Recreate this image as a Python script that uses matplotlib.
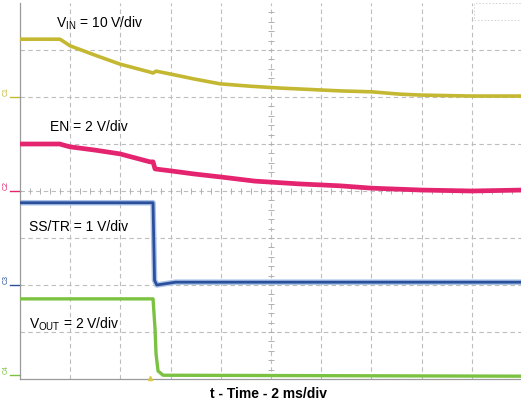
import matplotlib.pyplot as plt
import matplotlib.transforms as mtransforms
import numpy as np

plt.rcParams['font.family'] = ['Liberation Sans', 'DejaVu Sans']
plt.rcParams['mathtext.fontset'] = 'custom'
plt.rcParams['mathtext.rm'] = 'Liberation Sans'
plt.rcParams['mathtext.it'] = 'Liberation Sans'

# scope traces, time in ms, values in volts
vin_t = [0, 1.59, 1.71, 1.99, 2.99, 3.98, 5.18, 5.30, 5.42, 5.98, 6.97, 7.97, 9.16,
         10.36, 11.16, 12.75, 14.02, 15.14, 16.02, 18.01, 20.0]
vin_v = [12.3, 12.3, 11.9, 10.9, 8.9, 7.0, 5.3, 5.1, 5.5, 4.9, 3.8, 2.8, 2.3,
         1.9, 1.7, 1.3, 1.1, 0.6, 0.4, 0.2, 0.2]

en_t = [0, 1.59, 1.71, 1.99, 2.99, 3.98, 5.18, 5.30, 5.38, 5.98, 6.97, 7.97, 9.36,
        11.16, 12.75, 14.02, 16.02, 18.01, 20.0]
en_v = [2.0, 2.0, 1.96, 1.88, 1.74, 1.58, 1.24, 1.24, 0.94, 0.86, 0.72, 0.60, 0.42,
        0.30, 0.22, 0.12, 0.04, 0.0, 0.04]

ss_t = [0, 5.30, 5.36, 5.45, 5.70, 6.2, 20.0]
ss_v = [1.75, 1.75, 0.10, 0.00, 0.02, 0.06, 0.06]

vout_t = [0, 5.30, 5.38, 5.42, 5.50, 5.70, 20.0]
vout_v = [3.25, 3.25, 1.97, 0.90, 0.18, 0.0, -0.04]

# channel offsets (div) and scales (V/div)
channels = [
    ('C1', vin_t, vin_v, 6.0, 10, '#c4b832', 2.6),
    ('C2', en_t, en_v, 4.0, 2, '#e5246f', 3.4),
    ('C3', ss_t, ss_v, 2.0, 1, '#2c4f9c', 2.0),
    ('C4', vout_t, vout_v, 0.08, 2, '#7cc242', 2.4),
]

fig = plt.figure(figsize=(5.21, 4.10), dpi=100)
ax = fig.add_axes([20 / 521, 30 / 410, 502 / 521, 376 / 410])
ax.set_xlim(0, 20)
ax.set_ylim(0, 8)

# graticule
for gx in range(2, 20, 2):
    ax.axvline(gx, color='#bdbdbd', lw=0.8, ls=(0, (4, 3)), zorder=1)
for gy in range(1, 8):
    ax.axhline(gy, color='#bdbdbd', lw=0.8, ls=(0, (4, 3)), zorder=1)
ax.vlines(np.arange(0.4, 20, 0.4), 4 - 0.07, 4 + 0.07, color='#b0b0b0', lw=0.7, zorder=1)
ax.hlines(np.arange(0.2, 8, 0.2), 10 - 0.12, 10 + 0.12, color='#b0b0b0', lw=0.7, zorder=1)

ax.set_xticks([])
ax.set_yticks([])
for s in ['top', 'right']:
    ax.spines[s].set_visible(False)
for s in ['left', 'bottom']:
    ax.spines[s].set_color('#9a9a9a')
    ax.spines[s].set_linewidth(0.9)

trans = mtransforms.blended_transform_factory(ax.transAxes, ax.transData)
for name, t, v, off, scale, col, lw in channels:
    y = off + np.array(v) / scale
    if name == 'C3':
        ax.plot(t, y, color='#a9c4e8', lw=4.0, zorder=2, solid_capstyle='butt')
    ax.plot(t, y, color=col, lw=lw, zorder=3, solid_capstyle='butt')
    ax.plot([-0.02, 0.0], [off, off], color=col, lw=1.0, transform=trans, clip_on=False)
    ax.text(-0.028, off + 0.14, name, color=col, fontsize=5, rotation=90,
            ha='center', va='center', transform=trans, clip_on=False)

# trigger marker
ax.plot([5.18], [0.03], marker='^', ms=3, color='#d8c84a', clip_on=False, zorder=4)

# readout box at top right
ax.add_patch(plt.Rectangle((18.1, 7.63), 1.9, 0.37, facecolor='white',
                           edgecolor='#d0d0d0', lw=0.6, ls=(0, (2, 2)), zorder=4))

fs = 10
ax.text(1.42, 7.5, r'V$_{\mathrm{IN}}$ = 10 V/div', fontsize=fs, va='baseline', zorder=5)
ax.text(1.2, 5.3, 'EN = 2 V/div', fontsize=fs, va='baseline', zorder=5)
ax.text(0.36, 3.17, 'SS/TR = 1 V/div', fontsize=fs, va='baseline', zorder=5)
ax.text(0.36, 1.10, r'V$_{\mathrm{OUT}}$ = 2 V/div', fontsize=fs, va='baseline', zorder=5)

fig.text(269 / 521, 1 - 398 / 410, 't - Time - 2 ms/div', fontsize=10,
         fontweight='bold', ha='center', va='baseline')

fig.savefig('out.png', dpi=100)
